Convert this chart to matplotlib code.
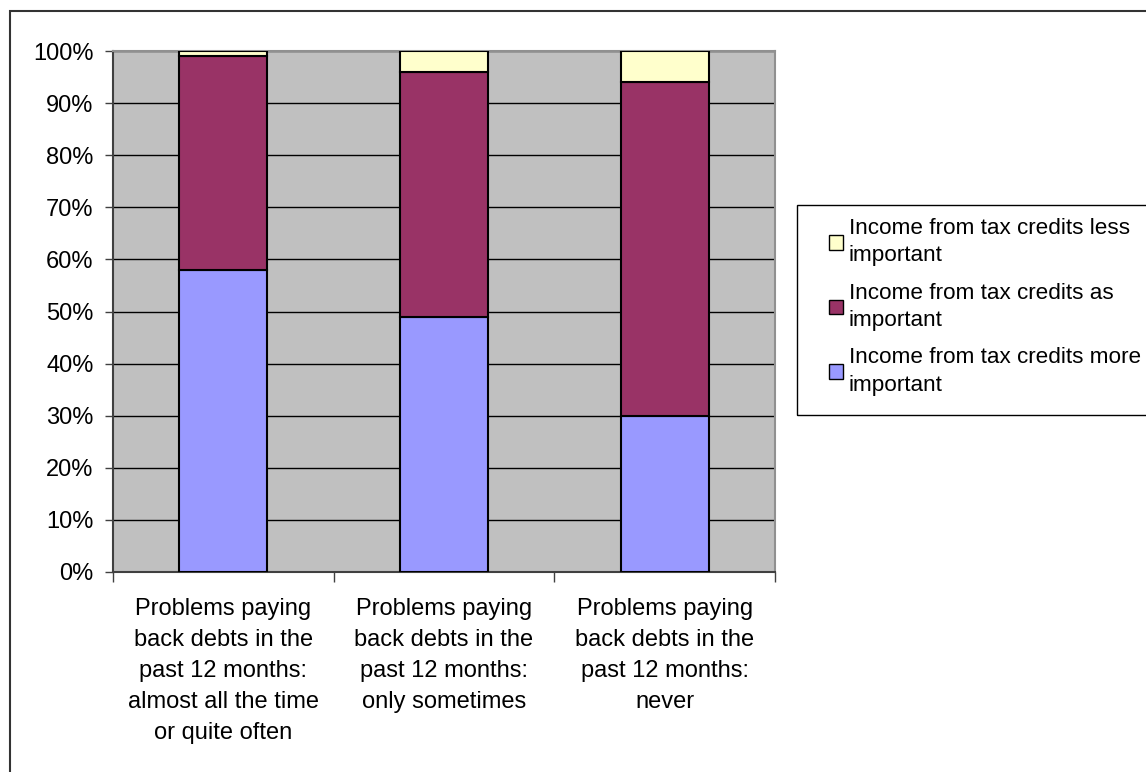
import matplotlib
matplotlib.use("Agg")
import matplotlib.pyplot as plt
import matplotlib.patches as mpatches
import numpy as np

plt.rcParams['font.family'] = ['Liberation Sans', 'DejaVu Sans']

# share of respondents (%) by debt-repayment problems
categories = [
    "Problems paying\nback debts in the\npast 12 months:\nalmost all the time\nor quite often",
    "Problems paying\nback debts in the\npast 12 months:\nonly sometimes",
    "Problems paying\nback debts in the\npast 12 months:\nnever",
]
more_important = [58, 49, 30]
as_important = [41, 47, 64]
less_important = [1, 4, 6]

series_labels = [
    "Income from tax credits more\nimportant",
    "Income from tax credits as\nimportant",
    "Income from tax credits less\nimportant",
]
colors = ["#9999FF", "#993366", "#FFFFCC"]

W, H = 1146, 772
FS = 17

fig = plt.figure(figsize=(W / 100, H / 100), dpi=100)
ax = fig.add_axes([113 / W, 1 - 572 / H, (775 - 113) / W, (572 - 51) / H])
ax.set_facecolor("#C0C0C0")

x = np.arange(len(categories))
bottom = np.zeros(len(categories))
for vals, col, lab in zip([more_important, as_important, less_important], colors, series_labels):
    ax.bar(x, vals, width=0.4, bottom=bottom, color=col, edgecolor="black",
           linewidth=1.5, label=lab, zorder=3)
    bottom += np.array(vals)

ax.set_xlim(-0.5, len(categories) - 0.5)
ax.set_ylim(0, 100)
ax.set_yticks(range(0, 101, 10))
ax.set_yticklabels([f"{v}%" for v in range(0, 101, 10)], fontsize=FS)
ax.yaxis.grid(True, color="black", linewidth=1, zorder=1)
ax.set_axisbelow(True)

ax.set_xticks(x)
ax.set_xticklabels(categories, fontsize=FS, linespacing=1.52, va="top")
ax.set_xticks(np.arange(-0.5, len(categories)), minor=True)
ax.tick_params(axis="x", which="major", length=0, pad=19)
ax.tick_params(axis="x", which="minor", length=7, width=1, color="#404040", direction="out")
ax.tick_params(axis="y", length=6, width=1, color="#404040", direction="out", pad=8)

for side in ["left", "bottom"]:
    ax.spines[side].set_color("#404040")
    ax.spines[side].set_linewidth(1.5)
for side in ["top", "right"]:
    ax.spines[side].set_color("#909090")
    ax.spines[side].set_linewidth(1.5)

# legend entries, top to bottom in stacking order reversed
handles = [mpatches.Patch(facecolor=c, edgecolor="black", linewidth=1) for c in colors[::-1]]
leg = fig.legend(handles, series_labels[::-1], loc="upper left",
                 bbox_to_anchor=(829 / W, 1 - 218 / H), fontsize=16.2,
                 frameon=False, handlelength=0.62, handleheight=0.62,
                 handletextpad=0.25, labelspacing=0.72, borderpad=0, borderaxespad=0)
for t in leg.get_texts():
    t.set_linespacing(1.4)

# legend box, runs off the right edge
fig.patches.append(mpatches.Rectangle((797 / W, 1 - 415 / H), 1.0, (415 - 205) / H,
                                      transform=fig.transFigure, fill=False,
                                      edgecolor="black", linewidth=1))

# outer chart border
fig.patches.append(mpatches.Rectangle((9.5 / W, -0.1), 1.2, 1 - 10.5 / H + 0.1,
                                      transform=fig.transFigure, fill=False,
                                      edgecolor="#333333", linewidth=1.5))

fig.savefig("out.png", dpi=100)
